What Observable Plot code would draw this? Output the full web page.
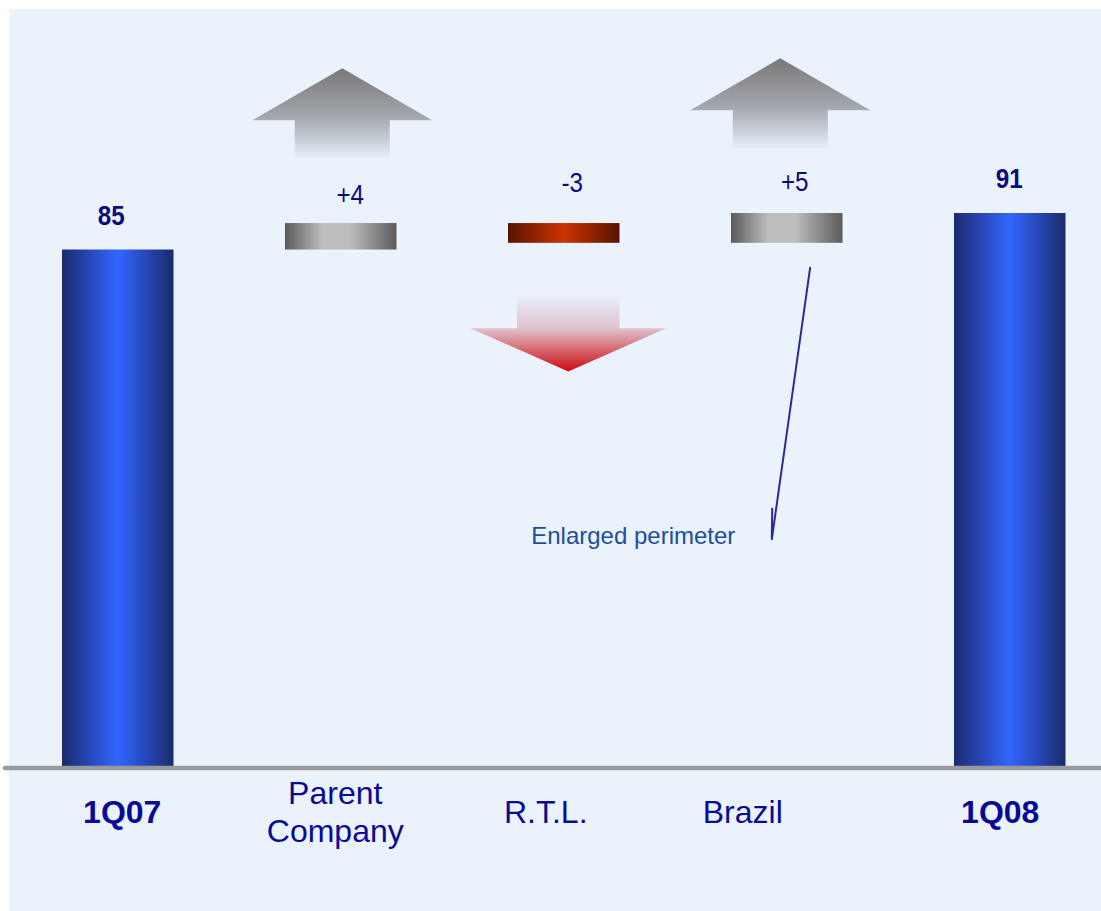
<!DOCTYPE html>
<html>
<head>
<meta charset="utf-8">
<script src="https://cdn.jsdelivr.net/npm/d3@7"></script>
<script src="https://cdn.jsdelivr.net/npm/@observablehq/plot@0.6"></script>
<style>
  html, body { margin: 0; padding: 0; background: #ffffff; }
  #wrap { position: relative; width: 1101px; height: 911px; overflow: hidden; }
  #panel { position: absolute; left: 9px; top: 9px; width: 1092px; height: 902px; background: #EAF2FC; }
  #chart { position: absolute; left: 0; top: 0; }
  #defs { position: absolute; width: 0; height: 0; }
</style>
</head>
<body>
<svg id="defs" width="0" height="0" aria-hidden="true">
  <defs>
    <linearGradient id="gBlue" x1="0" y1="0" x2="1" y2="0">
      <stop offset="0" stop-color="#1a2b6b"/>
      <stop offset="0.25" stop-color="#2747b8"/>
      <stop offset="0.5" stop-color="#3366ff"/>
      <stop offset="0.75" stop-color="#2747b8"/>
      <stop offset="1" stop-color="#1a2b6b"/>
    </linearGradient>
    <linearGradient id="gGray" x1="0" y1="0" x2="1" y2="0">
      <stop offset="0" stop-color="#5a5a5a"/>
      <stop offset="0.33" stop-color="#bdbdbd"/>
      <stop offset="0.58" stop-color="#bdbdbd"/>
      <stop offset="1" stop-color="#5a5a5a"/>
    </linearGradient>
    <linearGradient id="gRed" x1="0" y1="0" x2="1" y2="0">
      <stop offset="0" stop-color="#581300"/>
      <stop offset="0.5" stop-color="#cc3300"/>
      <stop offset="1" stop-color="#581300"/>
    </linearGradient>
    <linearGradient id="gUp" x1="0" y1="0" x2="0" y2="1">
      <stop offset="0" stop-color="#787878"/>
      <stop offset="0.55" stop-color="#a4a8af"/>
      <stop offset="1" stop-color="#e6eef9"/>
    </linearGradient>
    <linearGradient id="gDown" x1="0" y1="0" x2="0" y2="1">
      <stop offset="0" stop-color="#e8eef9"/>
      <stop offset="0.43" stop-color="#dfc2cc"/>
      <stop offset="1" stop-color="#cc0a10"/>
    </linearGradient>
  </defs>
</svg>
<div id="wrap">
  <div id="panel"></div>
  <div id="chart"></div>
</div>
<script>
// ---- data ----
const categories = ["1Q07", "Parent Company", "R.T.L.", "Brazil", "1Q08"];
const categoryLabels = ["1Q07", "Parent\nCompany", "R.T.L.", "Brazil", "1Q08"];
const kinds = ["total", "delta", "delta", "delta", "total"];
const values = [85, 4.35, -3.25, 4.9, 91];
const valueLabels = ["85", "+4", "-3", "+5", "91"];
const annotationText = "Enlarged perimeter";
const annotationCategory = "Brazil";

// ---- build waterfall rows ----
let running = 0;
const rows = categories.map((cat, i) => {
  let lo, hi;
  if (kinds[i] === "total") { lo = 0; hi = values[i]; running = values[i]; }
  else { const start = running; running = start + values[i]; lo = Math.min(start, running); hi = Math.max(start, running); }
  return {cat, label: categoryLabels[i], kind: kinds[i], value: values[i], text: valueLabels[i], lo, hi,
          fill: kinds[i] === "total" ? "url(#gBlue)" : values[i] >= 0 ? "url(#gGray)" : "url(#gRed)"};
});

// ---- styling offsets (pixels) ----
const catDx = {"1Q07": 4, "Parent Company": -6, "R.T.L.": -18.5, "Brazil": -44.5, "1Q08": -10};
const valDx = {"1Q07": -7, "Parent Company": 9, "R.T.L.": 8, "Brazil": 7.5, "1Q08": -1};
const valDy = {"1Q07": -34.5, "Parent Company": -28.5, "R.T.L.": -41, "Brazil": -31.5, "1Q08": -35};
const arrowDx = {"Parent Company": 1.5, "R.T.L.": 4.5, "Brazil": -6.5};

const NS = "http://www.w3.org/2000/svg";
const sans = "'Liberation Sans', Arial, Helvetica, sans-serif";

function decorations(...args) {
  const scales = args.length >= 4 ? args[1] : args[0];
  const sx = scales.x, sy = scales.y;
  const bw = typeof sx.bandwidth === "function" ? sx.bandwidth() : 111.5;
  const g = document.createElementNS(NS, "g");
  for (const r of rows) {
    if (r.kind === "total") continue;
    const cx = sx(r.cat) + bw / 2 + (arrowDx[r.cat] || 0);
    const p = document.createElementNS(NS, "path");
    let d;
    if (r.value >= 0) {
      const yt = sy(r.hi);
      const tip = yt - 154.7, wing = yt - 102.7, bot = yt - 64.7;
      d = `M${cx},${tip}L${cx + 90},${wing}L${cx + 47.5},${wing}L${cx + 47.5},${bot}L${cx - 47.5},${bot}L${cx - 47.5},${wing}L${cx - 90},${wing}Z`;
      p.setAttribute("fill", "url(#gUp)");
    } else {
      const yb = sy(r.lo);
      const top = yb + 53.3, wing = yb + 85.3, tip = yb + 128.6;
      d = `M${cx - 51.3},${top}L${cx + 51.3},${top}L${cx + 51.3},${wing}L${cx + 98},${wing}L${cx},${tip}L${cx - 98},${wing}L${cx - 51.3},${wing}Z`;
      p.setAttribute("fill", "url(#gDown)");
    }
    p.setAttribute("d", d);
    g.appendChild(p);
  }
  // annotation leader line for the enlarged perimeter
  const br = rows.find(r => r.cat === annotationCategory);
  const bx = sx(br.cat) + bw / 2, by = sy(br.lo);
  const x1 = bx + 23.5, y1 = by + 24, x2 = bx - 15, y2 = by + 297;
  const line = document.createElementNS(NS, "path");
  line.setAttribute("d", `M${x1},${y1}L${x2},${y2}L${x2 + 0.5},${y2 - 32}`);
  line.setAttribute("fill", "none");
  line.setAttribute("stroke", "#2b2b98");
  line.setAttribute("stroke-width", "2");
  line.setAttribute("stroke-linejoin", "miter");
  g.appendChild(line);
  return g;
}

const marks = [
  decorations,
  Plot.barY(rows, {x: "cat", y1: "lo", y2: "hi", fill: "fill", inset: 0}),
  Plot.ruleY([0], {stroke: "#9a9a9a", strokeWidth: 4.5, strokeLinecap: "round", dy: 1}),
  Plot.text(rows.filter(r => r.cat === annotationCategory), {
    x: "cat", y: "lo", text: () => annotationText, dx: -154, dy: 293,
    fill: "#1f4e9e", fontSize: 24, fontFamily: sans, lineAnchor: "middle"
  })
];

for (const r of rows) {
  marks.push(Plot.text([r], {
    x: "cat", y: "hi", text: "text", dx: valDx[r.cat], dy: valDy[r.cat],
    fill: "#0b0b80", fontSize: 28.5, fontFamily: sans,
    fontWeight: r.kind === "total" ? "bold" : "normal", lineAnchor: "middle"
  }));
  marks.push(Plot.text([r], {
    x: "cat", text: "label", frameAnchor: "bottom", dx: catDx[r.cat], dy: 44,
    fill: "#0a0a96", fontSize: 32, fontFamily: sans, lineHeight: 1.17,
    fontWeight: r.kind === "total" ? "bold" : "normal", lineAnchor: "middle"
  }));
}

const chart = Plot.plot({
  width: 1101,
  height: 911,
  marginLeft: 5,
  marginRight: 0,
  marginTop: 36.6,
  marginBottom: 144.4,
  style: {background: "transparent", overflow: "visible"},
  x: {domain: categories, range: [62, 1065.5], paddingInner: 0.5, paddingOuter: 0, round: false, axis: null},
  y: {domain: [0, 120], axis: null},
  marks
});
document.getElementById("chart").appendChild(chart);

// narrow (condensed) look for the value labels
chart.querySelectorAll("text").forEach(t => {
  if (!valueLabels.includes(t.textContent)) return;
  const tr = t.getAttribute("transform");
  if (tr) t.setAttribute("transform", tr + " scale(0.85,1)");
  else { t.style.transformBox = "fill-box"; t.style.transformOrigin = "center"; t.style.transform = "scaleX(0.85)"; }
});
</script>
</body>
</html>
